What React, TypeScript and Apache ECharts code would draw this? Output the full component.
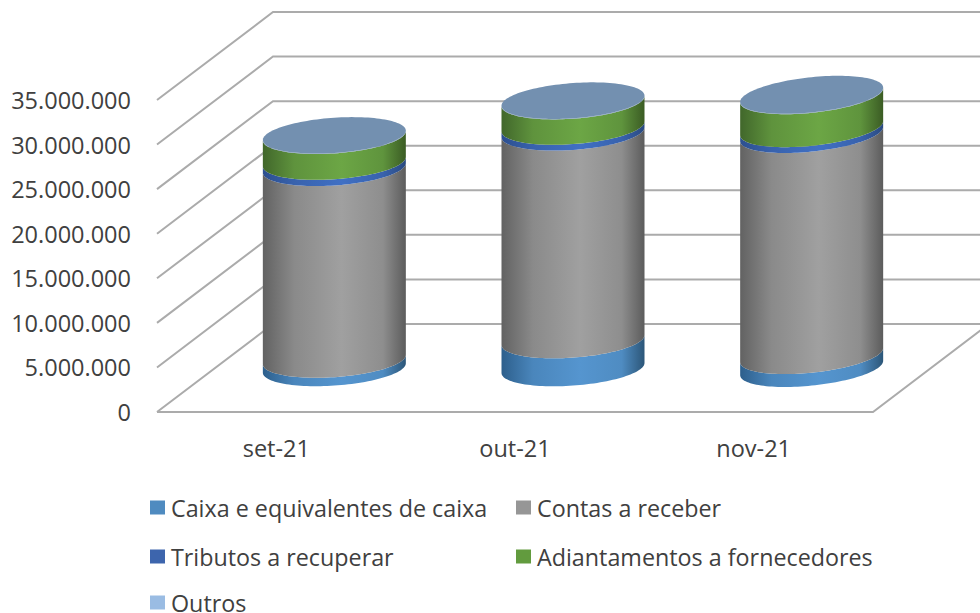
import React, { useEffect, useRef } from "react";
import * as echarts from "echarts";

const categories = ["set-21", "out-21", "nov-21"];
const yTicks = [0, 5000000, 10000000, 15000000, 20000000, 25000000, 30000000, 35000000];
const caixa = [950000, 3140000, 1450000];
const contas = [21500000, 23300000, 24800000];
const tributos = [700000, 650000, 650000];
const adiantamentos = [2900000, 2850000, 3700000];
const outros = [50000, 50000, 50000];
const seriesNames = [
  "Caixa e equivalentes de caixa",
  "Contas a receber",
  "Tributos a recuperar",
  "Adiantamentos a fornecedores",
  "Outros",
];
const seriesValues = [caixa, contas, tributos, adiantamentos, outros];

const legendColors = ["#4f8bc0", "#969696", "#3d65ad", "#629b3e", "#9abce3"];
const sideStops = [
  ["#2d5f8c", "#4a86bc", "#5595cf", "#4f8cc2", "#2c5678"],
  ["#626262", "#8a8a8a", "#a0a0a0", "#8e8e8e", "#5c5c5c"],
  ["#2c4f8f", "#3862ad", "#4070c4", "#3862ad", "#2a4a80"],
  ["#41672b", "#5f933d", "#6ca645", "#5f943d", "#3b5c24"],
  ["#6f8db0", "#7695b8", "#7c9abd", "#7695b8", "#6f8db0"],
];
const stopOffsets = [0, 0.22, 0.55, 0.84, 1];
const capColor = "#7390b0";
const legendPos = [
  [145, 491], [511, 491], [145, 540], [511, 540], [145, 586],
];
const depthX = 116;
const depthY = -88;
const radius = 71.5;
const capH = 17.6;
const tilt = [0.066, 0.07, 0.1];
const gridColor = "#ababab";
const textColor = "#404040";
const fontFamily = "'Open Sans', 'Noto Sans', sans-serif";

function ellipsePoint(cx: number, cy: number, s: number, t: number) {
  return [cx + radius * Math.cos(t), cy - s * radius * Math.cos(t) + capH * Math.sin(t)];
}

function cylinderItem(seriesIndex: number) {
  return (_params: any, api: any) => {
    const cat = api.value(0);
    const s = tilt[cat];
    const lo = api.coord([cat, api.value(1)]);
    const hi = api.coord([cat, api.value(2)]);
    const cx = lo[0] + depthX / 2;
    const y0 = lo[1] + depthY / 2;
    const y1 = hi[1] + depthY / 2;
    const n = 64;
    const points: number[][] = [];
    for (let i = 0; i <= n; i++) points.push(ellipsePoint(cx, y0, s, (Math.PI * i) / n));
    for (let i = n; i >= 0; i--) points.push(ellipsePoint(cx, y1, s, (Math.PI * i) / n));
    const stops = sideStops[seriesIndex];
    const children: any[] = [
      {
        type: "polygon",
        shape: { points },
        style: {
          fill: new echarts.graphic.LinearGradient(
            0, 0, 1, 0,
            stops.map((color, i) => ({ offset: stopOffsets[i], color }))
          ),
        },
      },
    ];
    if (seriesIndex === seriesValues.length - 1) {
      const cap: number[][] = [];
      for (let i = 0; i < 2 * n; i++) cap.push(ellipsePoint(cx, y1, s, (Math.PI * i) / n));
      children.push({ type: "polygon", shape: { points: cap }, style: { fill: capColor } });
    }
    return { type: "group", children };
  };
}

function gridItem(params: any, api: any) {
  const v = api.value(0);
  const y = api.coord([0, v])[1];
  const sys = params.coordSys;
  const x0 = sys.x;
  const x1 = sys.x + sys.width;
  const line = { stroke: gridColor, lineWidth: 2, fill: "none" };
  const children: any[] = [
    {
      type: "polyline",
      shape: { points: [[x0, y], [x0 + depthX, y + depthY], [x1 + depthX, y + depthY]] },
      style: line,
    },
  ];
  if (v === 0) {
    children.push({
      type: "polyline",
      shape: { points: [[x0, y], [x1, y], [x1 + depthX, y + depthY]] },
      style: line,
    });
  }
  return { type: "group", children };
}

function buildSeries() {
  const result: any[] = [
    {
      type: "custom",
      coordinateSystem: "cartesian2d",
      renderItem: gridItem,
      data: yTicks.map((v) => [v]),
      encode: { y: 0 },
      clip: false,
      silent: true,
      z: 1,
    },
  ];
  const running = categories.map(() => 0);
  seriesValues.forEach((values, si) => {
    const data = values.map((v, c) => {
      const row = [c, running[c], running[c] + v];
      running[c] += v;
      return row;
    });
    result.push({
      type: "custom",
      name: seriesNames[si],
      coordinateSystem: "cartesian2d",
      renderItem: cylinderItem(si),
      data,
      encode: { x: 0, y: [1, 2] },
      itemStyle: { color: legendColors[si] },
      clip: false,
      silent: true,
      z: 2 + si,
    });
  });
  return result;
}

export default function App() {
  const ref = useRef<HTMLDivElement>(null);
  useEffect(() => {
    const chart = echarts.init(ref.current!, undefined, { renderer: "svg" });
    chart.setOption({
      animation: false,
      backgroundColor: "#ffffff",
      textStyle: { fontFamily },
      grid: { left: 157, right: 107, top: 100, bottom: 201 },
      xAxis: {
        type: "category",
        data: categories,
        axisLine: { show: false },
        axisTick: { show: false },
        axisLabel: { color: textColor, fontSize: 23.5, fontFamily, margin: 24 },
      },
      yAxis: {
        type: "value",
        min: 0,
        max: 35000000,
        interval: 5000000,
        axisLine: { show: false },
        axisTick: { show: false },
        splitLine: { show: false },
        axisLabel: {
          color: textColor,
          fontSize: 23.5,
          fontFamily,
          margin: 26,
          padding: [3, 0, 0, 0],
          formatter: (v: number) => String(v).replace(/\B(?=(\d{3})+(?!\d))/g, "."),
        },
      },
      legend: seriesNames.map((name, i) => ({
        data: [name],
        left: legendPos[i][0],
        top: legendPos[i][1],
        icon: "rect",
        itemWidth: 15,
        itemHeight: 14,
        itemGap: 6,
        selectedMode: false,
        textStyle: { color: textColor, fontSize: 23.3, lineHeight: 16, fontFamily, padding: [0, 0, 0, 1] },
      })),
      series: buildSeries(),
    });
    return () => chart.dispose();
  }, []);
  return <div ref={ref} style={{ position: "absolute", left: 0, top: 0, width: 980, height: 613 }} />;
}
